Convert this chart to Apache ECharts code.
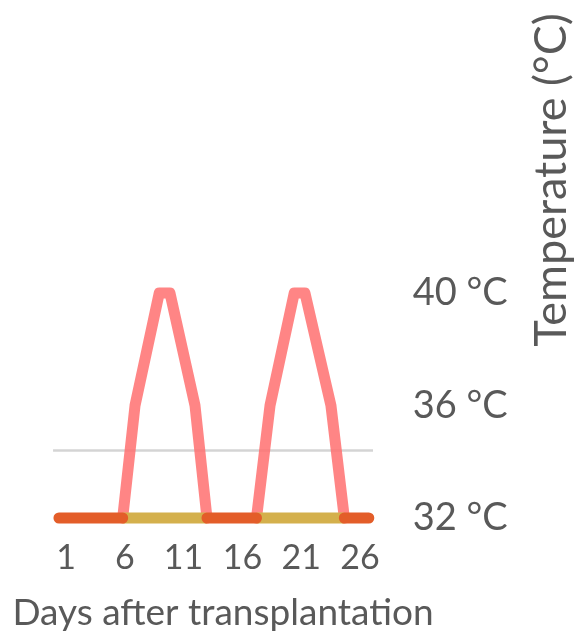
<!DOCTYPE html>
<html><head><meta charset="utf-8">
<script src="https://cdn.jsdelivr.net/npm/echarts@6/dist/echarts.min.js"></script>
<style>html,body{margin:0;padding:0;background:#fff}#c{width:577px;height:632px}</style>
</head><body><div id="c"></div>
<script>
// Days (x) and temperatures (y)
const xTicks = [1, 6, 11, 16, 21, 26];
const yTicks = [32, 36, 40];
const heatDays = [5.82, 6.87, 8.93, 9.84, 11.97, 12.99, null, 17.2, 18.35, 20.41, 21.32, 23.53, 24.67];
const heatTemps = [32, 36, 40, 40, 36, 32, null, 32, 36, 40, 40, 36, 32];
const controlSegments = [[0.4, 5.82], [12.99, 17.2], [24.67, 26.75]];
const heatBaseSegments = [[5.82, 12.99], [17.2, 24.67]];
const baseTemp = 32;
const refTemp = 34.4;
const refRange = [-0.1, 27.3];

const FONT = 'Lato';
function seg(list, t) {
  const out = [];
  list.forEach((s, i) => { if (i) out.push([null, null]); out.push([s[0], t], [s[1], t]); });
  return out;
}
const heatData = heatDays.map((d, i) => d == null ? [null, null] : [d, heatTemps[i]]);

const chart = echarts.init(document.getElementById('c'), null, {renderer: 'canvas'});
chart.setOption({
  animation: false,
  backgroundColor: '#fff',
  grid: {left: 54.24, width: 317.5, top: 293, height: 225, containLabel: false, outerBoundsMode: 'none'},
  xAxis: {
    type: 'value', min: 0, max: 27,
    axisLine: {show: false}, axisTick: {show: false}, splitLine: {show: false},
    axisLabel: {customValues: xTicks, color: '#595959', fontFamily: FONT, fontSize: 34, margin: 23},
    name: 'Days after transplantation', nameLocation: 'middle', nameGap: 77,
    nameTextStyle: {color: '#595959', fontFamily: FONT, fontSize: 37, padding: [0, 0, 0, 20]}
  },
  yAxis: {
    type: 'value', position: 'right', min: 32, max: 40, interval: 4,
    axisLine: {show: false}, axisTick: {show: false}, splitLine: {show: false},
    axisLabel: {color: '#595959', fontFamily: FONT, fontSize: 38, margin: 41, formatter: '{value} °C'}
  },
  graphic: [{
    type: 'text', x: 551, y: 180, rotation: Math.PI / 2,
    style: {text: 'Temperature (°C)', fill: '#595959', font: '45px ' + FONT, align: 'center', verticalAlign: 'middle'}
  }],
  series: [
    {type: 'line', data: [[refRange[0], refTemp], [refRange[1], refTemp]], symbol: 'none', clip: false,
     lineStyle: {color: '#d4d4d4', width: 2.5}, z: 1},
    {type: 'line', data: heatData, symbol: 'none', clip: false, connectNulls: false,
     lineStyle: {color: '#ff7070', width: 11, opacity: 0.85, cap: 'round', join: 'round'}, z: 2},
    {type: 'line', data: seg(heatBaseSegments, baseTemp), symbol: 'none', clip: false,
     lineStyle: {color: '#d4b04c', width: 11, cap: 'butt'}, z: 3},
    {type: 'line', data: seg(controlSegments, baseTemp), symbol: 'none', clip: false,
     lineStyle: {color: '#e35d29', width: 11, cap: 'round'}, z: 4}
  ]
});
</script></body></html>
